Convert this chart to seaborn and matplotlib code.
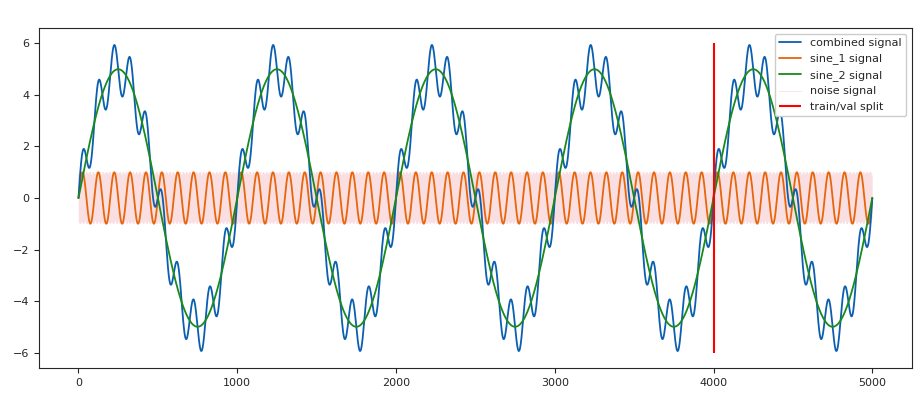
import numpy as np
import pandas as pd
import matplotlib
matplotlib.use("Agg")
import matplotlib.pyplot as plt
import seaborn as sns

# signal parameters
n_samples = 5000
sine_1_amp, sine_1_period = 1.0, 100
sine_2_amp, sine_2_period = 5.0, 1000
noise_amp, noise_period = 1.0, 6.3
split_at = 4000
split_range = [-6, 6]

t = np.arange(n_samples + 1)
sine_1 = sine_1_amp * np.sin(2 * np.pi * t / sine_1_period)
sine_2 = sine_2_amp * np.sin(2 * np.pi * t / sine_2_period)
noise = noise_amp * np.sin(2 * np.pi * t / noise_period)
combined = sine_1 + sine_2

df = pd.DataFrame({"t": t, "combined": combined, "sine_1": sine_1,
                   "sine_2": sine_2, "noise": noise})

sns.set_style("ticks")
plt.rcParams['font.family'] = ['DejaVu Sans']
fig, ax = plt.subplots(figsize=(9.24, 4.0), dpi=100)

sns.lineplot(data=df, x="t", y="combined", color="#0a5fb0", lw=1.3,
             label="combined signal", ax=ax, zorder=4)
sns.lineplot(data=df, x="t", y="sine_1", color="#e8650a", lw=1.3,
             label="sine_1 signal", ax=ax, zorder=3)
sns.lineplot(data=df, x="t", y="sine_2", color="#1a8a1a", lw=1.3,
             label="sine_2 signal", ax=ax, zorder=5)
sns.lineplot(data=df, x="t", y="noise", color="#f4b8c0", lw=0.6, alpha=0.45,
             label="noise signal", ax=ax, zorder=1)
ax.vlines(split_at, split_range[0], split_range[1], color="red", lw=1.5,
          label="train/val split", zorder=6)

ax.set_xlabel("")
ax.set_ylabel("")
ax.set_xlim(-250, 5250)
ax.set_ylim(-6.6, 6.6)
ax.set_xticks([0, 1000, 2000, 3000, 4000, 5000])
ax.set_yticks([-6, -4, -2, 0, 2, 4, 6])
ax.tick_params(labelsize=8)
ax.legend(loc="upper right", fontsize=8, framealpha=1)
fig.subplots_adjust(left=0.042, right=0.987, top=0.93, bottom=0.08)
fig.savefig("out.png", dpi=100)
